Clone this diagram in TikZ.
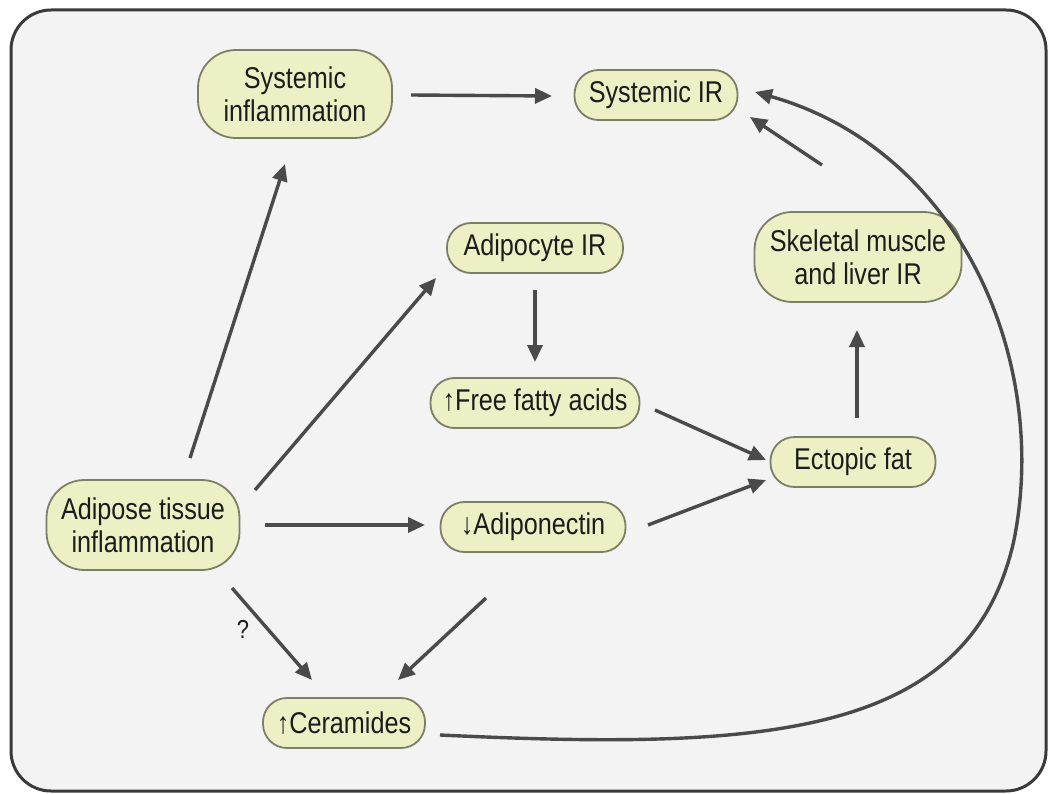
\documentclass[tikz,border=0pt]{standalone}
\usepackage{fontspec}
\setmainfont[FakeStretch=0.84]{Liberation Sans}
\usetikzlibrary{arrows.meta,calc}
\definecolor{bgc}{HTML}{F3F3F3}
\definecolor{framec}{HTML}{3A3A3A}
\definecolor{nodefill}{HTML}{EDF0C4}
\definecolor{nodeedge}{HTML}{7E7E66}
\definecolor{arrc}{HTML}{4A4A4A}
\definecolor{txtc}{HTML}{1C1C1C}
\tikzset{
  box/.style={draw=nodeedge, line width=1.8pt, fill=nodefill, rounded corners=24pt,
    align=center, inner sep=0pt, text=txtc, font=\fontsize{30}{33}\selectfont},
  tallbox/.style={box, rounded corners=38pt},
  arr/.style={draw=arrc, line width=3.4pt, -{Triangle[length=17pt,width=15pt]}},
}
\begin{document}
\begin{tikzpicture}[x=1pt,y=-1pt]
\useasboundingbox (0,0) rectangle (1051,794);
\draw[framec, line width=3pt, fill=bgc, rounded corners=40pt] (11,10) rectangle (1046,791);

\node[tallbox, minimum width=194pt, minimum height=88pt] (sinf) at (295,94) {Systemic\\inflammation};
\node[box, minimum width=163pt, minimum height=50pt] (sir) at (656,95) {Systemic IR};
\node[box, minimum width=176pt, minimum height=50pt] (air) at (535,248) {Adipocyte IR};
\node[box, minimum width=209pt, minimum height=50pt] (ffa) at (535,403) {↑Free fatty acids};
\node[box, minimum width=165pt, minimum height=50pt] (ect) at (853,462) {Ectopic fat};
\node[tallbox, minimum width=207pt, minimum height=90pt] (skm) at (858,257) {Skeletal muscle\\and liver IR};
\node[tallbox, minimum width=193pt, minimum height=90pt] (adi) at (143,525) {Adipose tissue\\inflammation};
\node[box, minimum width=185pt, minimum height=50pt] (adn) at (533,527) {↓Adiponectin};
\node[box, minimum width=162pt, minimum height=50pt] (cer) at (344,723) {↑Ceramides};

\draw[arr] ([shift={(116,1)}]sinf.center) -- ([shift={(-104,1)}]sir.center);
\draw[arr] ([shift={(47,-67)}]adi.center) -- ([shift={(-10,70)}]sinf.center);
\draw[arr] ([shift={(112,-35)}]adi.center) -- ([shift={(-99,30)}]air.center);
\draw[arr] ([shift={(122,0)}]adi.center) -- ([shift={(-108,-2)}]adn.center);
\draw[arr] ([shift={(89,63)}]adi.center) -- node[pos=0.45, left=14pt, text=txtc, font=\fontsize{26}{28}\selectfont]{?} ([shift={(-32,-43)}]cer.center);
\draw[arr] ([shift={(-47,71)}]adn.center) -- ([shift={(54,-43)}]cer.center);
\draw[arr] ([shift={(0,42)}]air.center) -- ([shift={(0,-41)}]ffa.center);
\draw[arr] ([shift={(120,7)}]ffa.center) -- ([shift={(-87,-2)}]ect.center);
\draw[arr] ([shift={(115,-2)}]adn.center) -- ([shift={(-87,18)}]ect.center);
\draw[arr] ([shift={(4,-44)}]ect.center) -- ([shift={(-1,73)}]skm.center);
\draw[arr] ([shift={(-36,-92)}]skm.center) -- ([shift={(94,22)}]sir.center);
\draw[arr] ([shift={(96,12)}]cer.center) .. controls (760,750) and (970,740) .. (1014,540)
  .. controls (1050,360) and (960,150) .. ([shift={(99,-3)}]sir.center);
\end{tikzpicture}
\end{document}
